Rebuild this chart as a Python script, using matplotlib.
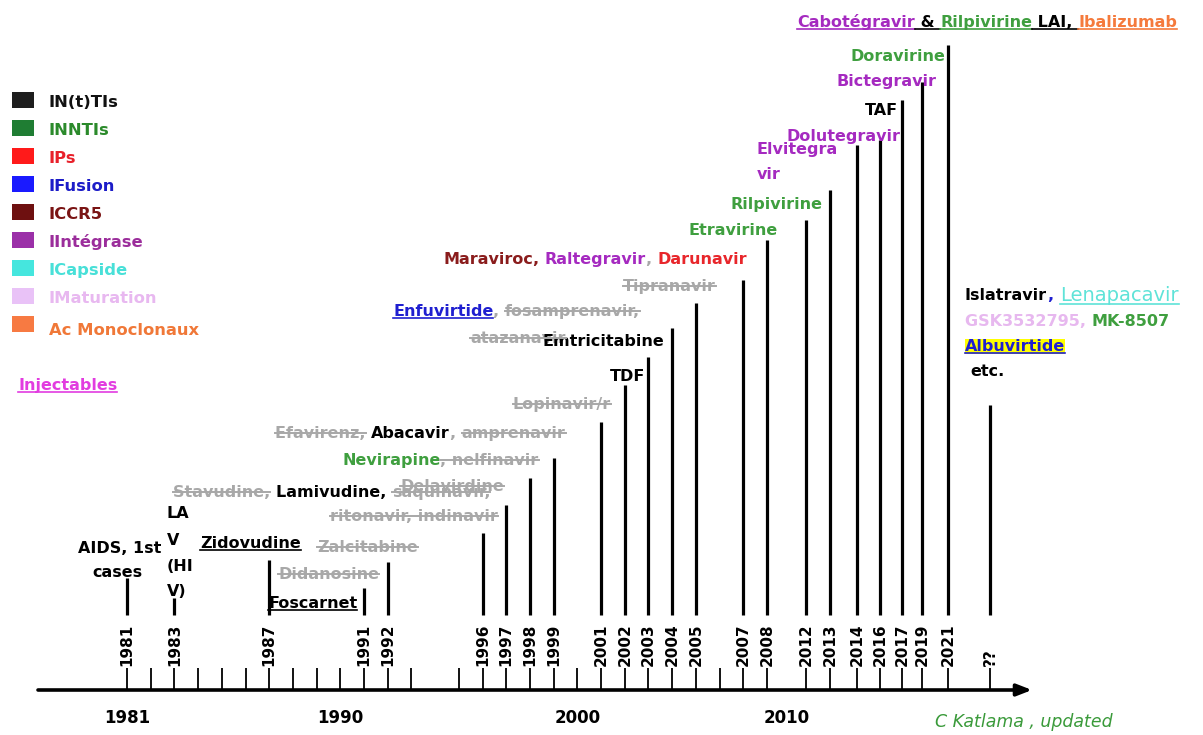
import numpy as np
import matplotlib
matplotlib.use("Agg")
import matplotlib.pyplot as plt
from matplotlib.lines import Line2D
from matplotlib.patches import Rectangle
from matplotlib import font_manager as fm

# ---------------- data ----------------
event_labels = ["1981", "1983", "1987", "1991", "1992", "1996", "1997", "1998", "1999",
                "2001", "2002", "2003", "2004", "2005", "2007", "2008", "2012", "2013",
                "2014", "2016", "2017", "2019", "2021", "??"]
event_years = [1981, 1983, 1987, 1991, 1992, 1996, 1997, 1998, 1999,
               2001, 2002, 2003, 2004, 2005, 2007, 2008, 2012, 2013,
               2014, 2016, 2017, 2019, 2021, 2023]
stem_heights = [157, 137, 175, 147, 173, 202, 230, 257, 277,
                313, 350, 378, 407, 432, 455, 495, 515, 545,
                590, 595, 635, 653, 690, 330]
tick_years = [1981, 1982, 1983, 1984, 1985, 1986, 1987, 1988, 1989, 1990, 1991, 1992, 1993,
              1995, 1996, 1997, 1998, 1999, 2000, 2001, 2002, 2003, 2004, 2005, 2006, 2007, 2008,
              2012, 2013, 2014, 2016, 2017, 2019, 2021, 2023]
decade_years = [1981, 1990, 2000, 2010]
legend_labels = ["IN(t)TIs", "INNTIs", "IPs", "IFusion", "ICCR5", "IIntégrase",
                 "ICapside", "IMaturation", "Ac Monoclonaux"]
legend_box_colors = ["#1e1e1e", "#1f7d33", "#ff1a1a", "#1a1aff", "#6e1010",
                     "#9b30a8", "#45e6de", "#e9c2f7", "#f77a42"]
legend_text_colors = ["#111111", "#2b8a2b", "#e8202a", "#1c1cc8", "#7a1414",
                      "#9b2d9b", "#48e0d8", "#e8b8f0", "#f07838"]

# ---------------- layout ----------------
W, H = 1203, 735
fig = plt.figure(figsize=(W / 100, H / 100), dpi=100)
ax = fig.add_axes([0, 0, 1, 1])
ax.axis("off")

# schematic (piecewise) time scale
anchor_years = np.array([1900, 1981, 2008, 2012, 2013, 2014, 2016, 2017, 2019, 2021, 2023, 2100], float)
anchor_px = np.array([127 - 81 * 23.7, 127, 767, 806, 830, 857, 880, 902, 922, 948, 990, 990 + 77 * 23.7])


def fwd(x):
    return np.interp(x, anchor_years, anchor_px)


def inv(p):
    return np.interp(p, anchor_px, anchor_years)


ax.set_xscale("function", functions=(fwd, inv))
ax.set_xlim(inv(0), inv(W))
ax.set_ylim(0, H)

# colours
K = "#000000"
G = "#a8a8a8"
GR = "#3f9f3f"
PU = "#a52ac0"
RD = "#e8262b"
BL = "#1f1fd0"
DR = "#8a1c1c"
OR = "#f57a3c"
CY = "#5fe3d8"
PK = "#e7b8ef"

# stems, year labels, ticks, axis
base = 120
ax.vlines(event_years, base, stem_heights, color="black", lw=2.3)
for yr, lab in zip(event_years, event_labels):
    ax.text(yr, H - 666, lab, rotation=90, ha="center", va="bottom",
            fontsize=11, fontweight="bold", color="black")
ax.vlines(tick_years, 45, 67, color="black", lw=1.3)
ax.annotate("", xy=(inv(1032), 45), xytext=(inv(38), 45), xycoords="data",
            arrowprops=dict(arrowstyle="-|>,head_length=0.9,head_width=0.35",
                            color="black", lw=2.6, shrinkA=0, shrinkB=0))

names = {f.name for f in fm.fontManager.ttflist}
narrow = "Liberation Sans Narrow" if "Liberation Sans Narrow" in names else "DejaVu Sans"

for yr in decade_years:
    ax.text(yr, H - 718, str(yr), ha="center", va="center", fontsize=12,
            fontweight="bold", family=narrow, color="black")

renderer = fig.canvas.get_renderer()


def _tw(s, **kw):
    t = fig.text(0, 0, s, **kw)
    w = t.get_window_extent(renderer).width
    t.remove()
    return w


def width(s, **kw):
    if not s:
        return 0.0
    return _tw("|" + s + "|", **kw) - _tw("||", **kw)


def hline(x0, x1, y, color, lw=1.3, z=3):
    fig.add_artist(Line2D([x0 / W, x1 / W], [1 - y / H, 1 - y / H],
                          transform=fig.transFigure, color=color, lw=lw, zorder=z))


def runs(x, y, parts, size=11.5, weight="bold", family="DejaVu Sans"):
    em = size * 100 / 72
    yb = y + 0.36 * em
    cx = x
    for p in parts:
        txt, color = p[0], p[1]
        deco = p[2] if len(p) > 2 else ""
        kw = dict(fontsize=size, fontweight=weight, color=color, family=family)
        w = width(txt, **kw)
        lead = width(txt[:len(txt) - len(txt.lstrip())], **kw)
        core = width(txt.strip(), **kw)
        if "hl" in deco:
            fig.add_artist(Rectangle((cx / W, 1 - (yb + 0.22 * em) / H), w / W, 0.95 * em / H,
                                     transform=fig.transFigure, facecolor="#ffff00",
                                     edgecolor="none", zorder=1))
        fig.text(cx / W, 1 - yb / H, txt, va="baseline", ha="left", zorder=4, **kw)
        if "strike" in deco:
            hline(cx + lead, cx + lead + core, yb - 0.28 * em, color, lw=1.4, z=5)
        if "ul" in deco:
            hline(cx, cx + w, yb + 0.14 * em, color, lw=1.2)
        cx += w
    return cx


# ---------------- legend ----------------
legend_y = [100, 128, 156, 184, 212, 240, 268, 296, 324]
for yy, lab, bc, tc in zip(legend_y, legend_labels, legend_box_colors, legend_text_colors):
    fig.add_artist(Rectangle((12 / W, 1 - (yy + 8) / H), 22 / W, 16 / H,
                             transform=fig.transFigure, facecolor=bc, edgecolor="none"))
    dy = 5 if lab.startswith("Ac") else 1
    runs(49, yy + dy, [(lab, tc)], size=11.8)
runs(18, 384, [("Injectables", "#e23ce0", "ul")], size=11.5)

# ---------------- event annotations ----------------
runs(78, 547, [("AIDS, 1st", K)])
runs(92, 571, [("cases", K)])
for yy, s in zip([512, 539, 565, 590], ["LA", "V", "(HI", "V)"]):
    runs(167, yy, [(s, K)])

runs(200, 542, [("Zidovudine", K, "ul")])
runs(317, 546, [("Zalcitabine", G, "strike")])
runs(278, 573, [("Didanosine", G, "strike")])
runs(268, 602, [("Foscarnet", K, "ul")])

runs(173, 491, [("Stavudine, ", G, "strike"), ("Lamivudine, ", K), ("saquinavir,", G, "strike")])
runs(400, 485, [("Delavirdine", G, "strike")])
runs(330, 515, [("ritonavir, indinavir", G, "strike")])
runs(342, 459, [("Nevirapine", GR), (", nelfinavir", G, "strike")])
runs(275, 432, [("Efavirenz, ", G, "strike"), ("Abacavir", K), (", ", G), ("amprenavir", G, "strike")])
runs(513, 403, [("Lopinavir/r", G, "strike")])
runs(610, 375, [("TDF", K)])
runs(470, 337, [("atazanavir", G, "strike")])
runs(543, 340, [("Emtricitabine", K)])
runs(393, 310, [("Enfuvirtide", BL, "ul"), (", ", G), ("fosamprenavir,", G, "strike")])
runs(623, 285, [("Tipranavir", G, "strike")])
runs(443, 258, [("Maraviroc", DR), (", ", DR), ("Raltegravir", PU), (", ", G), ("Darunavir", RD)])
runs(688, 229, [("Etravirine", GR)])
runs(730, 203, [("Rilpivirine", GR)])
runs(757, 148, [("Elvitegra", PU)])
runs(757, 173, [("vir", PU)])
runs(787, 135, [("Dolutegravir", PU)])
runs(865, 109, [("TAF", K)])
runs(837, 80, [("Bictegravir", PU)])
runs(850, 55, [("Doravirine", GR)])
runs(797, 21, [("Cabotégravir", PU, "ul"), (" & ", K, "ul"), ("Rilpivirine", GR, "ul"),
               (" LAI, ", K, "ul"), ("Ibalizumab", OR, "ul")])

runs(965, 294, [("Islatravir", K), (",", BL)])
runs(1060, 294, [("Lenapacavir", CY, "ul")], weight="normal", size=14)
runs(965, 320, [("GSK3532795, ", PK), ("MK-8507", GR)])
runs(965, 345, [("Albuvirtide", BL, "ul hl")])
runs(970, 370, [("etc.", K)])

fig.text(935 / W, 1 - 722 / H, "C Katlama , updated", color="#3a9a3a", fontsize=12.5,
         style="italic", family=narrow, va="center", ha="left")

fig.savefig("out.png", dpi=100, facecolor="white")
